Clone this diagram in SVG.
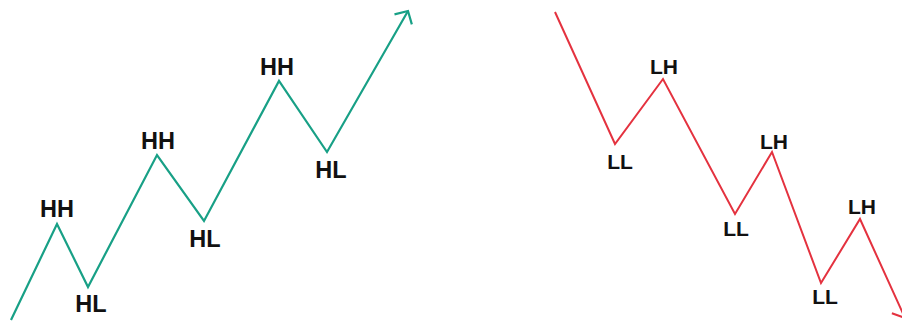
<svg xmlns="http://www.w3.org/2000/svg" width="902" height="324" viewBox="0 0 902 324">
<defs>
<style>
.g{fill:none;stroke:#18a086;stroke-width:2.2;stroke-linejoin:miter}
.r{fill:none;stroke:#e4323f;stroke-width:2;stroke-linejoin:miter}
.t{font-family:"Liberation Sans",Arial,sans-serif;font-weight:bold;fill:#111;text-anchor:middle}
.tg{font-size:23.5px}
.tr{font-size:21px}
</style>
<marker id="ag" markerUnits="userSpaceOnUse" markerWidth="30" markerHeight="30" refX="0" refY="0" viewBox="-15 -15 30 30" orient="auto" overflow="visible">
<path d="M-9.7,-10 L0,0 L-9.7,10" fill="none" stroke="#18a086" stroke-width="2.2"/>
</marker>
<marker id="ar" markerUnits="userSpaceOnUse" markerWidth="30" markerHeight="30" refX="0" refY="0" viewBox="-15 -15 30 30" orient="auto" overflow="visible">
<path d="M-9.7,-10 L0,0 L-9.7,10" fill="none" stroke="#e4323f" stroke-width="2"/>
</marker>
</defs>
<rect width="902" height="324" fill="#ffffff"/>
<g id="connectors">
<polyline class="g" points="11,320 57,224 88,287 157,155 204,221 279,81 327,152 408,11" marker-end="url(#ag)"/>
<polyline class="r" points="555,12 615,144 663,79 735,214 772,152 821,283 860,219 905,318" marker-end="url(#ar)"/>
</g>
<g id="hh1"><text class="t tg" x="57" y="217">HH</text></g>
<g id="hl1"><text class="t tg" x="91" y="312">HL</text></g>
<g id="hh2"><text class="t tg" x="158" y="149">HH</text></g>
<g id="hl2"><text class="t tg" x="205" y="247">HL</text></g>
<g id="hh3"><text class="t tg" x="277" y="75">HH</text></g>
<g id="hl3"><text class="t tg" x="331" y="178">HL</text></g>
<g id="lh1"><text class="t tr" x="664" y="74">LH</text></g>
<g id="ll1"><text class="t tr" x="620" y="169">LL</text></g>
<g id="ll2"><text class="t tr" x="736" y="236">LL</text></g>
<g id="lh2"><text class="t tr" x="774" y="149">LH</text></g>
<g id="ll3"><text class="t tr" x="825" y="304">LL</text></g>
<g id="lh3"><text class="t tr" x="862" y="214">LH</text></g>
</svg>
